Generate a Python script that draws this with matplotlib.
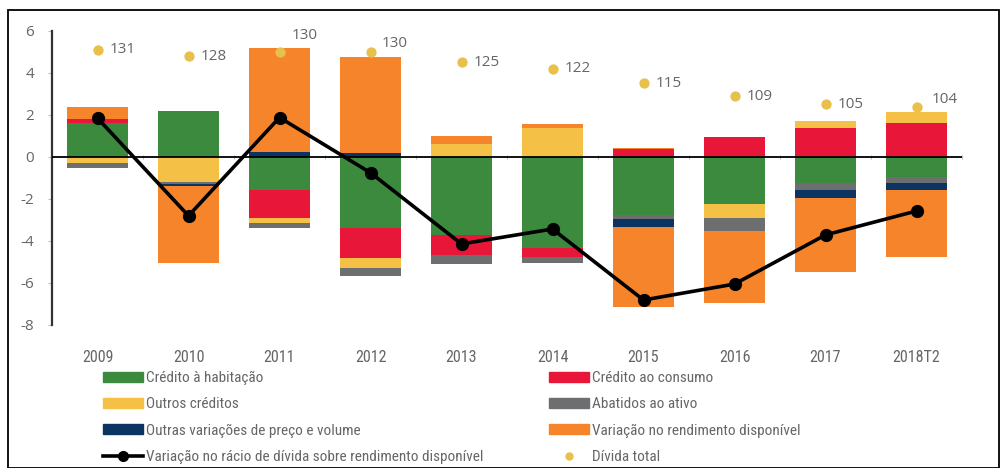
"""Decomposição da variação do rácio de dívida sobre rendimento disponível"""
import matplotlib
matplotlib.use("Agg")
from matplotlib import pyplot as plt
from matplotlib.patches import Patch, Rectangle
from matplotlib.lines import Line2D
import numpy as np

plt.rcParams['font.family'] = ['Roboto Condensed', 'DejaVu Sans']
plt.rcParams['axes.unicode_minus'] = False

years = ["2009", "2010", "2011", "2012", "2013", "2014", "2015", "2016", "2017", "2018T2"]

# positive and negative contributions (pp)
habitacao_pos = [1.63, 2.20, 0, 0, 0, 0, 0, 0, 0, 0]
habitacao_neg = [0, 0, -1.57, -3.40, -3.71, -4.35, -2.76, -2.24, -1.25, -0.97]
consumo_pos = [0.20, 0, 0, 0, 0, 0, 0.38, 0.97, 1.37, 1.63]
consumo_neg = [0, 0, -1.35, -1.43, -0.96, -0.43, 0, 0, 0, 0]
outros_pos = [0, 0, 0, 0, 0.60, 1.37, 0, 0, 0.36, 0.53]
outros_neg = [-0.30, -1.17, -0.24, -0.47, 0, 0, 0, -0.68, 0, 0]
abatidos_neg = [-0.22, -0.13, -0.24, -0.37, -0.43, -0.25, -0.21, -0.59, -0.32, -0.28]
outras_var_pos = [0, 0, 0.25, 0.20, 0, 0, 0, 0, 0, 0]
outras_var_neg = [0, -0.08, 0, 0, 0, 0, -0.35, 0, -0.40, -0.32]
rendimento_pos = [0.54, 0, 4.93, 4.58, 0.40, 0.19, 0.07, 0, 0, 0]
rendimento_neg = [0, -3.65, 0, 0, 0, 0, -3.81, -3.43, -3.49, -3.21]

racio = [1.85, -2.80, 1.88, -0.75, -4.14, -3.43, -6.81, -6.05, -3.71, -2.57]
divida_total = [131, 128, 130, 130, 125, 122, 115, 109, 105, 104]

c_green = "#3b8a3e"
c_red = "#e8173a"
c_yellow = "#f4c146"
c_grey = "#6d6e70"
c_blue = "#0c3463"
c_orange = "#f5842b"
c_dot = "#e8c04c"
c_text = "#666666"

fig = plt.figure(figsize=(10.01, 4.68), dpi=100)
ax = fig.add_axes([52 / 1001, 1 - 325 / 468, 910 / 1001, 294 / 468])

x = np.arange(len(years))
w = 0.66

pos_layers = [(habitacao_pos, c_green), (consumo_pos, c_red), (outros_pos, c_yellow),
              (outras_var_pos, c_blue), (rendimento_pos, c_orange)]
neg_layers = [(habitacao_neg, c_green), (consumo_neg, c_red), (outros_neg, c_yellow),
              (abatidos_neg, c_grey), (outras_var_neg, c_blue), (rendimento_neg, c_orange)]

bottom = np.zeros(len(years))
for vals, col in pos_layers:
    ax.bar(x, vals, w, bottom=bottom, color=col, linewidth=0, zorder=2)
    bottom += np.array(vals)
bottom = np.zeros(len(years))
for vals, col in neg_layers:
    ax.bar(x, vals, w, bottom=bottom, color=col, linewidth=0, zorder=2)
    bottom += np.array(vals)

ax.axhline(0, color="black", lw=1.3, zorder=3)
ax.plot(x, racio, color="black", lw=2.6, marker="o", ms=8.5, zorder=5)

ax.set_xlim(-0.5, 9.5)
ax.set_ylim(-8, 6)
ax.set_yticks(range(-8, 7, 2))
ax.set_xticks(x)
ax.set_xticklabels(years)
for s in ["top", "right", "bottom"]:
    ax.spines[s].set_visible(False)
ax.spines["left"].set_color("#333333")
ax.spines["left"].set_linewidth(1.6)
ax.tick_params(axis="x", length=0, pad=18, labelsize=11.5, labelcolor=c_text)
ax.tick_params(axis="y", length=3, width=0.8, color="#bbbbbb", pad=10,
               labelsize=11, labelcolor=c_text)
for lab in ax.get_yticklabels():
    lab.set_family(["Open Sans", "DejaVu Sans"])

# little marks on the zero line between the categories
sec = ax.secondary_xaxis(8 / 14)
sec.set_xticks(np.arange(0.5, 9.6, 1))
sec.set_xticklabels([])
sec.tick_params(length=3, direction="inout", color="#bbbbbb", width=0.8)
sec.spines["bottom"].set_visible(False)
sec.spines["top"].set_visible(False)

# Dívida total on a hidden second scale
ax2 = ax.twinx()
ax2.set_ylim(0, 140)
ax2.axis("off")
ax2.scatter(x, divida_total, s=55, color=c_dot, zorder=6, linewidths=0)
offsets = [(9, 0), (9, 0), (9, 12), (8, 6), (9, 0), (9, 0), (9, 0), (9, 0), (9, 0), (11, 5)]
for xi, d, off in zip(x, divida_total, offsets):
    ax2.annotate(str(d), (xi, d), xytext=off, textcoords="offset points",
                 va="center", ha="left", fontsize=11, color=c_text,
                 family=["Open Sans", "DejaVu Sans"])

left_items = [
    (Patch(color=c_green), "Crédito à habitação"),
    (Patch(color=c_yellow), "Outros créditos"),
    (Patch(color=c_blue), "Outras variações de preço e volume"),
    (Line2D([], [], color="black", lw=2.6, marker="o", ms=7),
     "Variação no rácio de dívida sobre rendimento disponível"),
]
right_items = [
    (Patch(color=c_red), "Crédito ao consumo"),
    (Patch(color=c_grey), "Abatidos ao ativo"),
    (Patch(color=c_orange), "Variação no rendimento disponível"),
    (Line2D([], [], ls="none", marker="o", ms=5, color=c_dot), "Dívida total"),
]
for items, xl in [(left_items, 103), (right_items, 549)]:
    fig.legend([h for h, _ in items], [t for _, t in items], loc="upper left",
               bbox_to_anchor=(xl / 1001, 1 - 371 / 468), frameon=False,
               borderpad=0, borderaxespad=0, handlelength=2.6, handleheight=0.65,
               handletextpad=0.2, labelspacing=0.8, fontsize=11,
               labelcolor=c_text)

fig.patches.append(Rectangle((8 / 1001, 0), 991 / 1001, 1 - 10 / 468,
                             transform=fig.transFigure, fill=False,
                             edgecolor="black", lw=1.3))

fig.savefig("out.png", dpi=100)
